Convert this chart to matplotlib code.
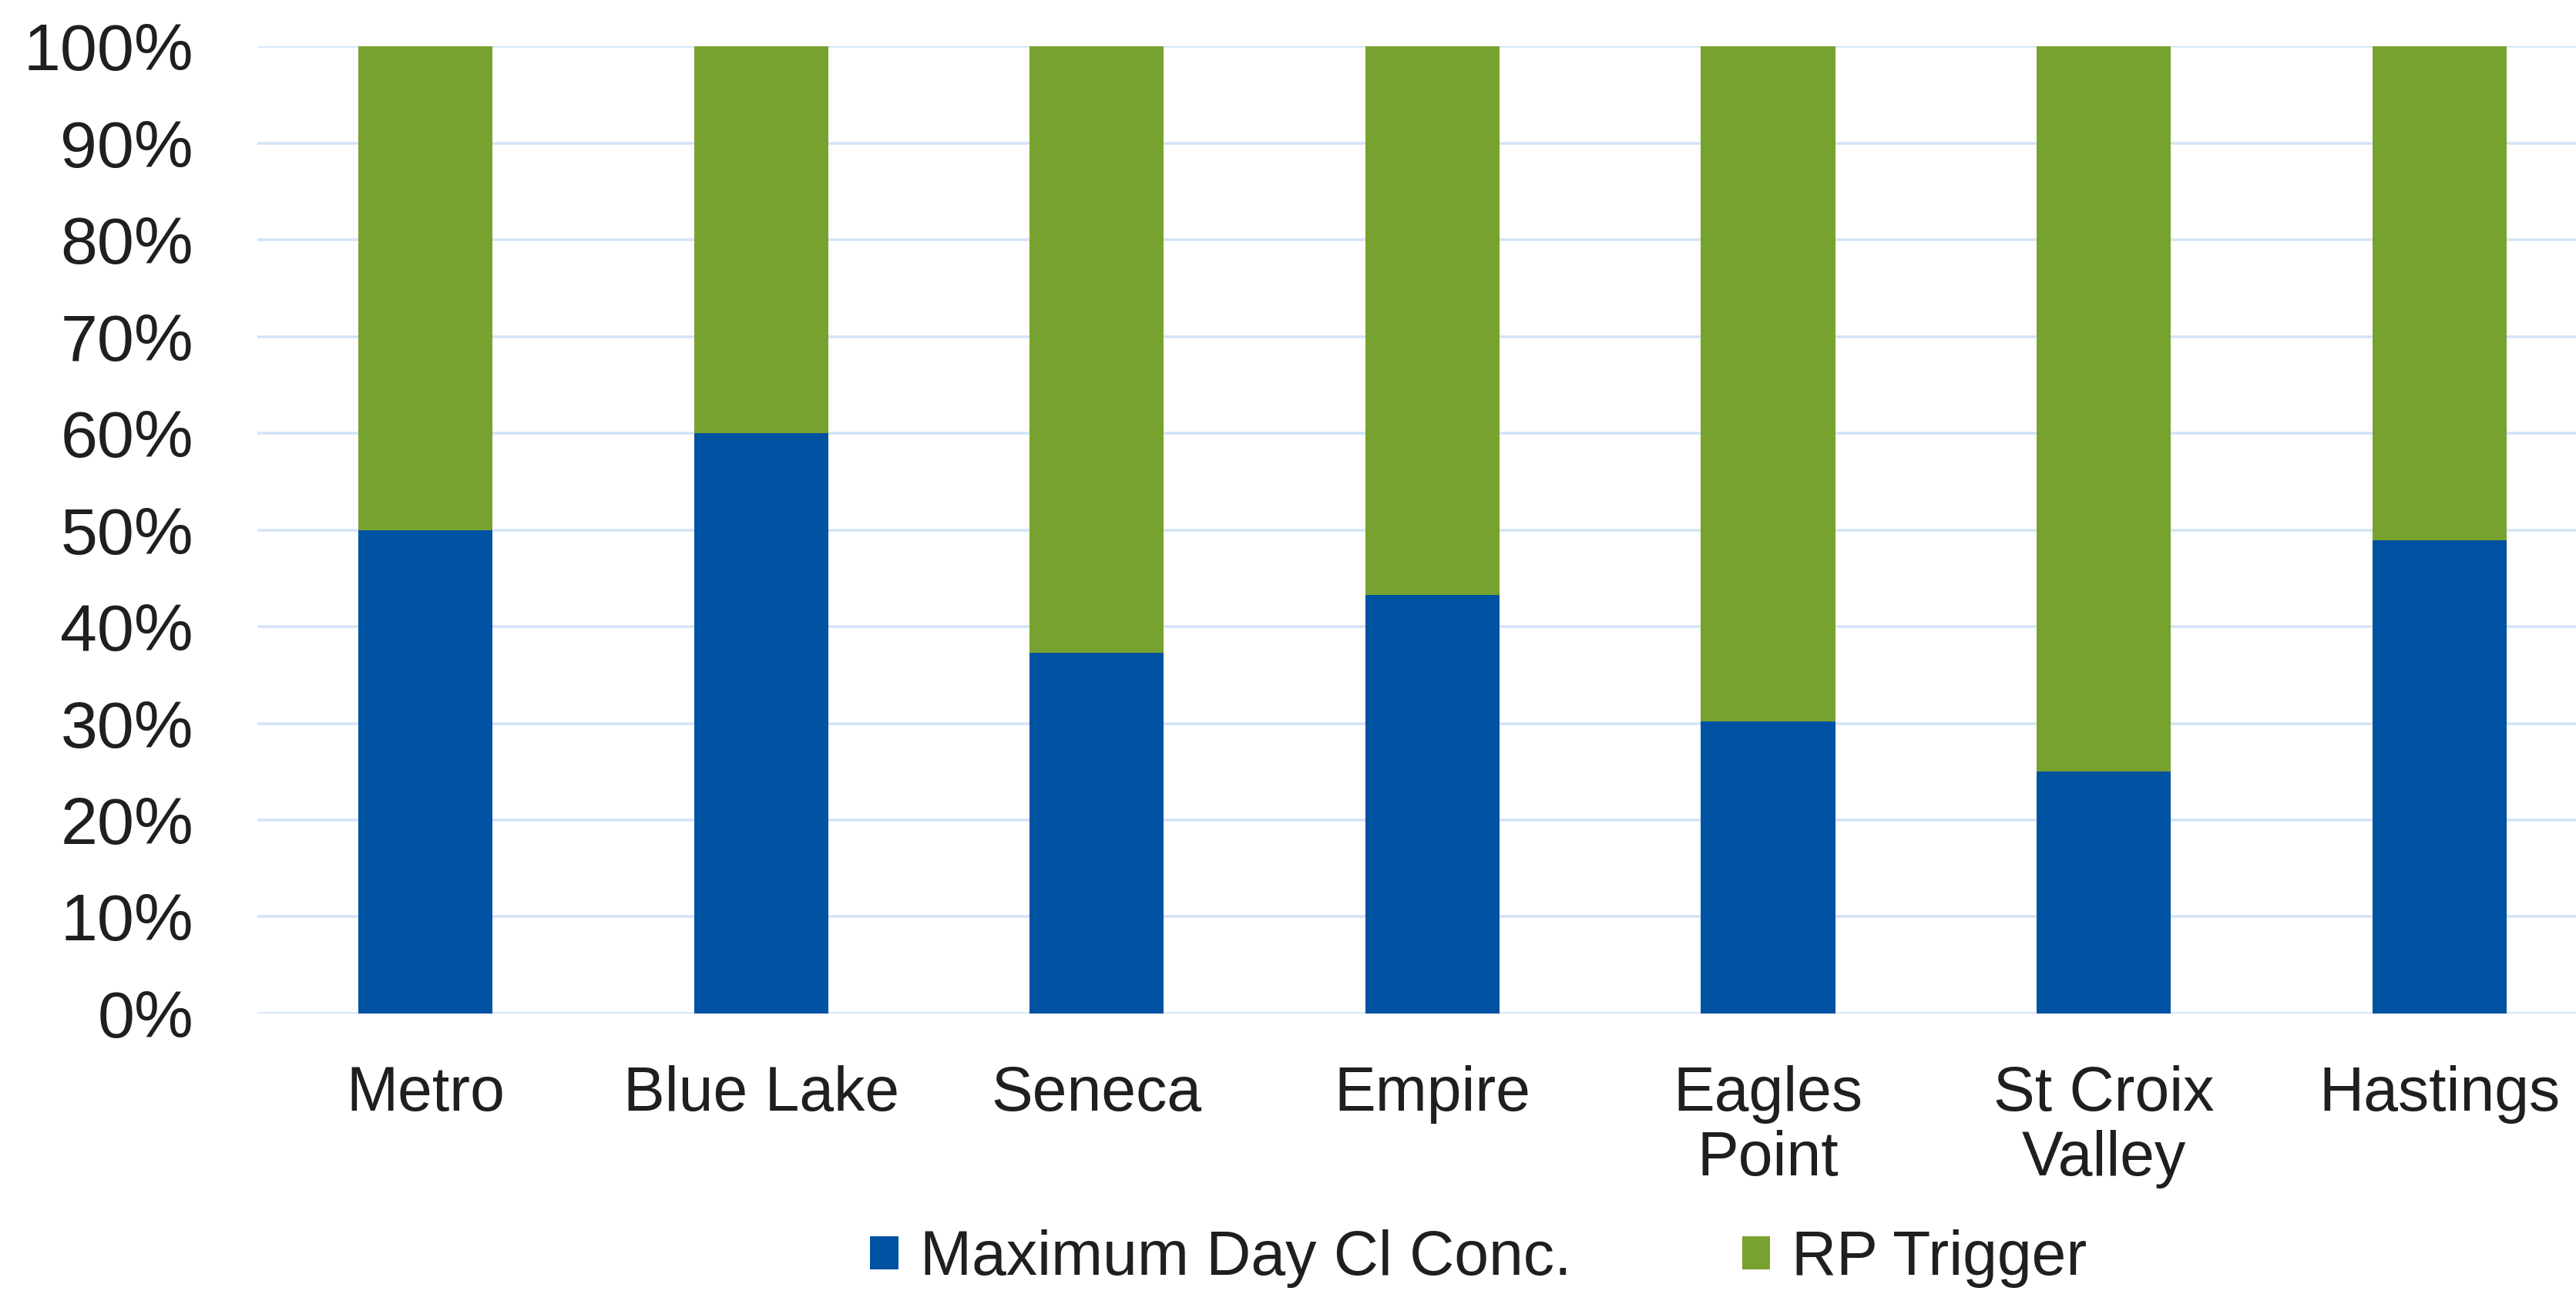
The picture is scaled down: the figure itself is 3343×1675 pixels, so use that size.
import numpy as np
import matplotlib
matplotlib.use("Agg")
import matplotlib.pyplot as plt
from matplotlib.ticker import PercentFormatter

plt.rcParams['font.family'] = ['Liberation Sans', 'DejaVu Sans']

categories = ['Metro', 'Blue Lake', 'Seneca', 'Empire', 'Eagles\nPoint',
              'St Croix\nValley', 'Hastings']
max_day_cl = [50.0, 60.0, 37.3, 43.3, 30.2, 25.0, 48.9]
rp_trigger = [100 - v for v in max_day_cl]

blue = '#0052A3'
green = '#78A22F'
grid_col = '#D3E4F7'

fig = plt.figure(figsize=(16.715, 8.375), dpi=200)
ax = fig.add_axes([0.100, 0.215, 0.900, 0.749])

x = np.arange(len(categories))
ax.bar(x, max_day_cl, width=0.4, color=blue, label='Maximum Day Cl Conc.', zorder=3)
ax.bar(x, rp_trigger, width=0.4, bottom=max_day_cl, color=green, label='RP Trigger', zorder=3)

ax.set_xlim(-0.5, 6.407)
ax.set_ylim(0, 100)
ax.set_yticks(np.arange(0, 101, 10))
ax.yaxis.set_major_formatter(PercentFormatter(decimals=0))
ax.set_xticks(x)
ax.set_xticklabels(categories, fontsize=29, linespacing=1.15)
ax.tick_params(axis='y', labelsize=31, length=0, pad=30, colors='#1f1f1f')
ax.tick_params(axis='x', length=0, pad=24, colors='#1f1f1f')
ax.grid(axis='y', color=grid_col, linewidth=1.3, zorder=0)
for s in ax.spines.values():
    s.set_visible(False)

leg = fig.legend(loc='center', bbox_to_anchor=(0.574, 0.025), ncol=2, frameon=False,
                 fontsize=29, handlelength=0.45, handleheight=0.45, handletextpad=0.35,
                 columnspacing=2.75, borderpad=0, borderaxespad=0)
for t in leg.get_texts():
    t.set_color('#1f1f1f')

fig.savefig('out.png', dpi=200)
